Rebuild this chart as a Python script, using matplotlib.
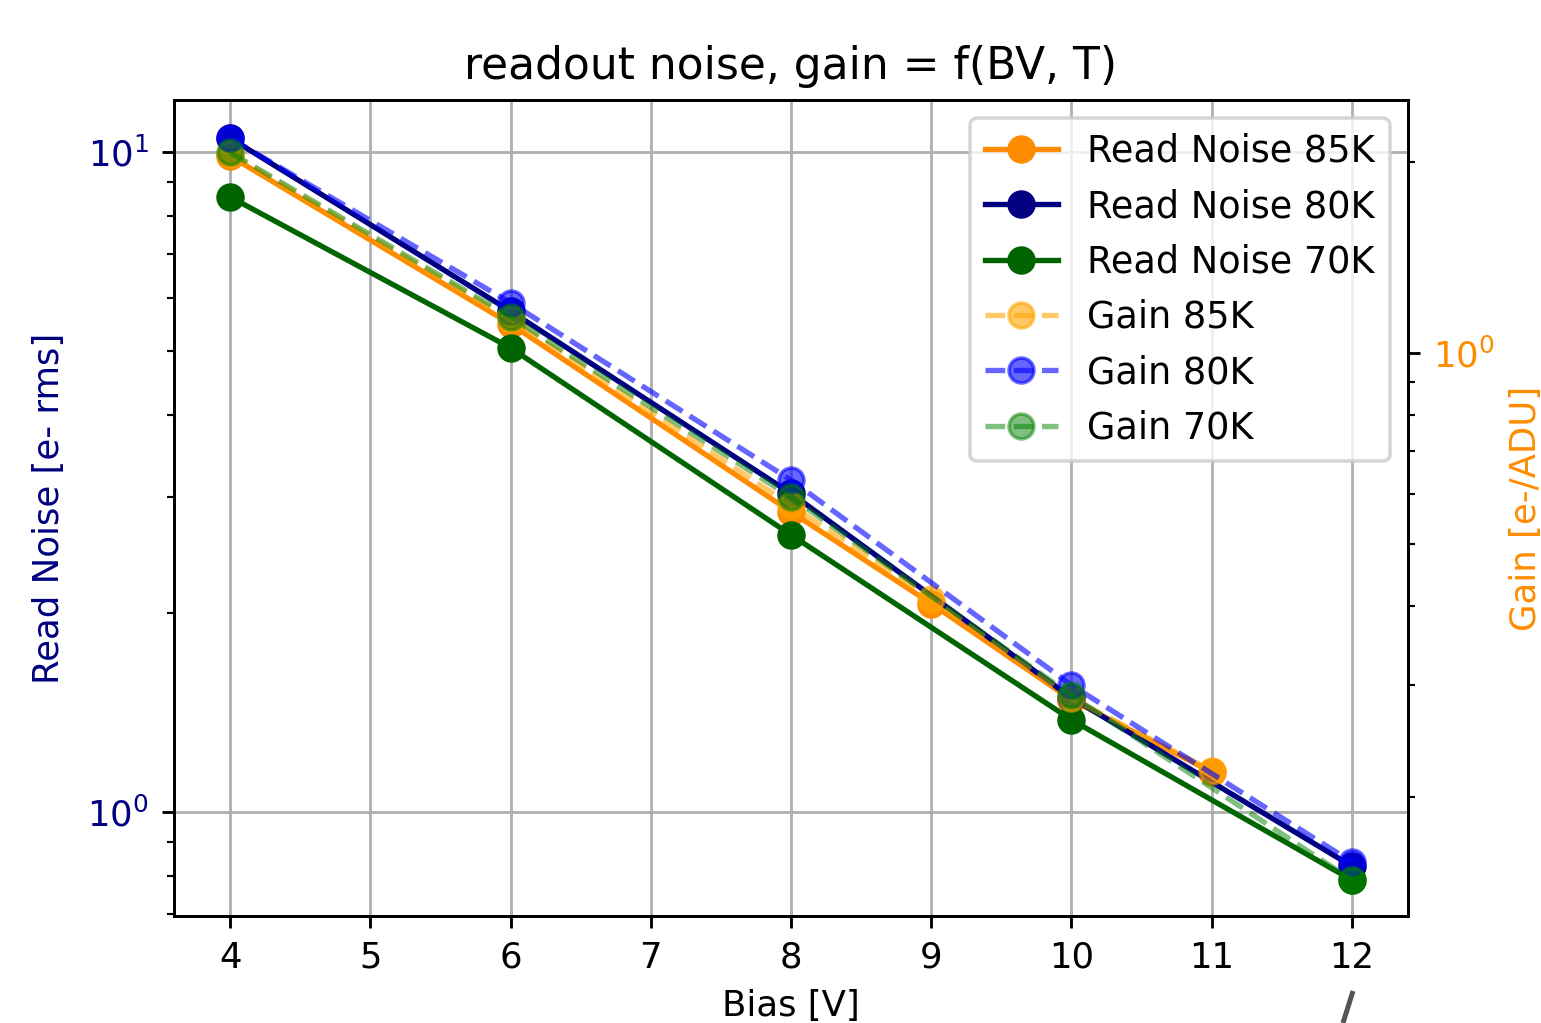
import matplotlib
matplotlib.use("Agg")
import matplotlib.pyplot as plt
from matplotlib.lines import Line2D

# bias voltage [V]
bias_85k = [4, 6, 8, 9, 10, 11]
bias_80k = [4, 6, 8, 10, 12]
bias_70k = [4, 6, 8, 10, 12]

# read noise [e- rms]
rn_85k = [9.86, 5.49, 2.85, 2.07, 1.48, 1.15]
rn_80k = [10.50, 5.74, 3.04, 1.49, 0.828]
rn_70k = [8.55, 5.05, 2.63, 1.38, 0.789]

# gain [e-/ADU]
gain_85k = [2.06, 1.13, 0.576, 0.410, 0.286, 0.220]
gain_80k = [2.18, 1.20, 0.631, 0.300, 0.158]
gain_70k = [2.07, 1.14, 0.593, 0.289, 0.148]

xticks = [4, 5, 6, 7, 8, 9, 10, 11, 12]

fig = plt.figure(figsize=(1541 / 256, 1023 / 256), dpi=256)
ax = fig.add_axes([174 / 1541, 1 - 916 / 1023, (1408 - 174) / 1541, (916 - 100) / 1023])

ms = 7
l1, = ax.plot(bias_85k, rn_85k, "o-", ms=ms, color="darkorange", label="Read Noise 85K")
l2, = ax.plot(bias_80k, rn_80k, "o-", ms=ms, color="navy", label="Read Noise 80K")
l3, = ax.plot(bias_70k, rn_70k, "o-", ms=ms, color="darkgreen", label="Read Noise 70K")
ax.set_yscale("log")
ax.set_ylim(0.696, 11.99)
ax.set_xlim(3.6, 12.4)
ax.set_xticks(xticks)
ax.set_xlabel("Bias [V]")
ax.set_ylabel("Read Noise [e- rms]", color="navy", labelpad=6)
ax.tick_params(axis="y", which="both", labelcolor="navy")
ax.grid(True, color="#b0b0b0")
ax.set_title("readout noise, gain = f(BV, T)", fontsize=12.4, pad=6)

ax2 = ax.twinx()
g1, = ax2.plot(bias_85k, gain_85k, "o--", ms=ms, color="orange", alpha=0.6, label="Gain 85K")
g2, = ax2.plot(bias_80k, gain_80k, "o--", ms=ms, color="blue", alpha=0.6, label="Gain 80K")
g3, = ax2.plot(bias_70k, gain_70k, "o--", ms=ms, color="green", alpha=0.5, label="Gain 70K")
ax2.set_yscale("log")
ax2.set_ylim(0.1299, 2.503)
ax2.set_ylabel("Gain [e-/ADU]", color="darkorange")
ax2.tick_params(axis="y", which="both", labelcolor="darkorange")

handles = [l1, l2, l3, g1, g2, g3]
ax2.legend(handles, [h.get_label() for h in handles], loc="upper right", fontsize=10.3)

# stray pen stroke below the last tick
fig.add_artist(Line2D([1343 / 1541, 1353 / 1541], [0, 1 - 991 / 1023],
                      transform=fig.transFigure, color="#555555", lw=1.4,
                      solid_capstyle="butt"))

fig.savefig("out.png", dpi=256)
